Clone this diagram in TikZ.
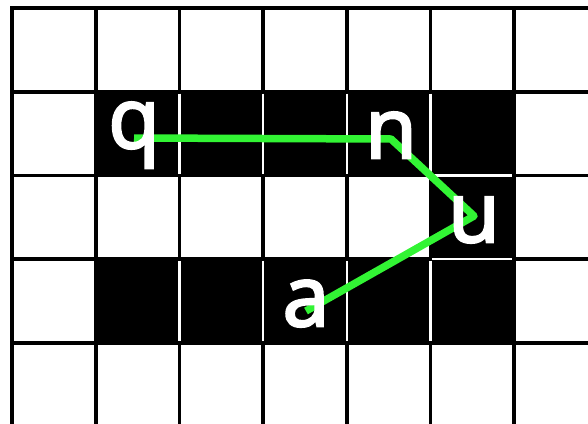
\documentclass[tikz,border=0pt]{standalone}
\usepackage{fontspec}
\setsansfont{Open Sans}[FakeBold=3]
\usepackage{xcolor}
\usetikzlibrary{backgrounds}
\definecolor{walkgreen}{RGB}{50,244,52}

\begin{document}
\begin{tikzpicture}[x=1pt,y=-1pt,
  gl/.style={line width=3.6pt,black,line cap=rect},
  sep/.style={line width=2.4pt,white},
  ltr/.style={font=\sffamily\fontsize{84}{84}\selectfont,text=white,
    inner sep=0pt,text height=#1,text depth=0pt},
  walk/.style={line width=7.5pt,walkgreen,line join=round}]
\useasboundingbox (0,0) rectangle (588,423);
% letters
\node[ltr=20pt](q) at (134,138){q};
\node[ltr=38pt](n) at (391,139){n};
\node[ltr=52pt](u) at (474,216){u};
\node[ltr=30pt](a) at (306,311){a};
\begin{pgfonlayer}{background}
  % black cells
  \fill (95.7,91.7) rectangle (514.2,175.4);
  \fill (430.5,175.4) rectangle (514.2,259.1);
  \fill (95.7,259.1) rectangle (514.2,342.8);
  % grid
  \foreach \k in {0,...,7}
    \draw[gl] ({12+83.7*\k},8) -- ({12+83.7*\k},440);
  \foreach \k in {0,...,5}
    \draw[gl] (12,{8+83.7*\k}) -- (600,{8+83.7*\k});
  % white lines between black cells
  \foreach \x in {179.4,263.1,346.8,430.5}{
    \draw[sep] (\x,93.5) -- (\x,173.6);
    \draw[sep] (\x,260.9) -- (\x,341);
  }
  \draw[sep] (432.3,175.4) -- (512.4,175.4);
  \draw[sep] (432.3,259.1) -- (512.4,259.1);
  % walk
  \draw[walk](q.center)--(n.center)--(u.center)--(a.center);
\end{pgfonlayer}
\end{tikzpicture}
\end{document}
